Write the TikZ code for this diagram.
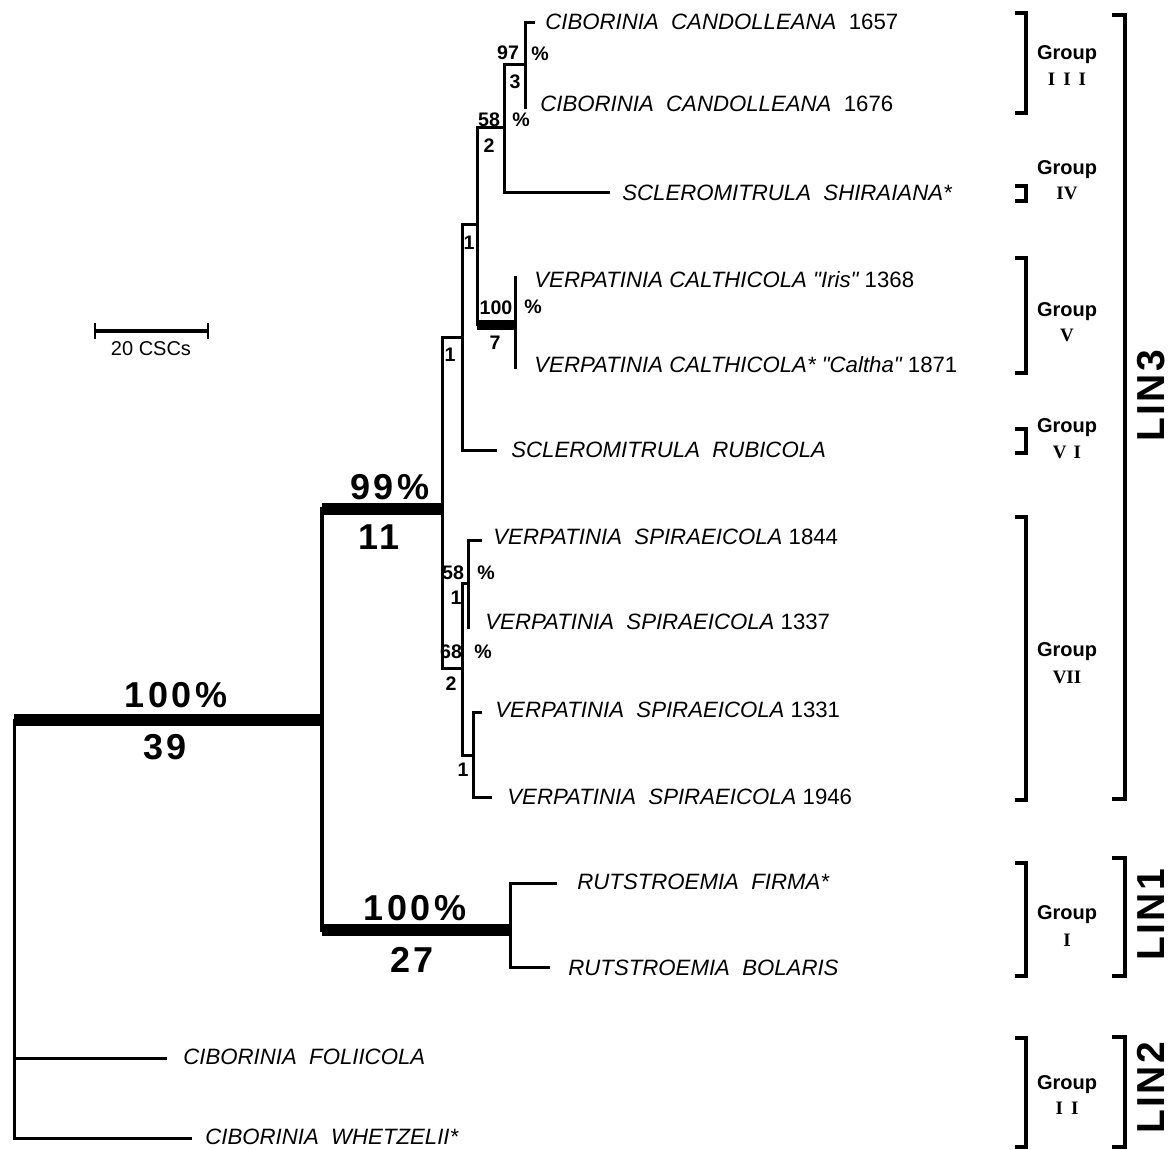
\documentclass[tikz,border=0pt]{standalone}
\usepackage{fontspec}
\newfontfamily\hel{Liberation Sans}
\newfontfamily\tms{Liberation Serif}
\newcommand\taxfnt{\hel\fontsize{11.1}{13}\selectfont}
\newcommand\smlfnt{\hel\bfseries\fontsize{9.8}{11}\selectfont}
\newcommand\bigfnt{\hel\bfseries\fontsize{18}{20}\selectfont\addfontfeature{LetterSpace=10}}
\newcommand\grpfnt{\hel\bfseries\fontsize{10}{12}\selectfont}
\newcommand\romfnt{\tms\bfseries\fontsize{9.5}{11}\selectfont}
\newcommand\linfnt{\hel\bfseries\fontsize{19.5}{21}\selectfont\addfontfeature{LetterSpace=6}}
\begin{document}
\begin{tikzpicture}[x=0.5pt,y=-0.5pt,line cap=rect,
  br/.style={line width=1.5pt},
  brA/.style={line width=1.9pt},
  thk/.style={line width=6.2pt,line cap=butt},
  thkV/.style={line width=5pt,line cap=butt},
  grpbr/.style={line width=2pt,line cap=butt},
  linbr/.style={line width=2.2pt,line cap=butt},
  tax/.style={anchor=west,inner sep=0pt,font=\taxfnt},
  sml/.style={inner sep=0pt,font=\smlfnt},
  big/.style={inner sep=0pt,font=\bigfnt},
  grp/.style={inner sep=0pt,font=\grpfnt},
  rom/.style={inner sep=0pt,font=\romfnt},
  lin/.style={inner sep=0pt,font=\linfnt,rotate=90}]
\useasboundingbox (0,0) rectangle (1170,1149);

% ---------- coordinates ----------
\coordinate (root) at (14,720);
\coordinate (nA)  at (322,720);
\coordinate (nL3) at (442,509);
\coordinate (nL1) at (510,930);
\coordinate (nD)  at (462,338);
\coordinate (nE)  at (477,225);
\coordinate (nF)  at (504,128);
\coordinate (nG)  at (525,65);
\coordinate (nH)  at (515,325);
\coordinate (nK)  at (462,668);
\coordinate (nM)  at (468,583);
\coordinate (nN)  at (473,755);
\coordinate (t1657) at (533,23);
\coordinate (t1676) at (525,108);
\coordinate (tShi)  at (608,193);
\coordinate (tIris) at (515,278);
\coordinate (tCal)  at (515,368);
\coordinate (tRub)  at (495,450);
\coordinate (t1844) at (480,540);
\coordinate (t1337) at (468,627);
\coordinate (t1331) at (480,712);
\coordinate (t1946) at (490,797);
\coordinate (tFir)  at (555,883);
\coordinate (tBol)  at (548,967);
\coordinate (tFol)  at (165,1058);
\coordinate (tWhe)  at (190,1138);

% ---------- tree ----------
\draw[thk] (root) -- (nA);
\draw[br] (root) |- (tWhe);
\draw[br] (root |- tFol) -- (tFol);
\draw[brA] (nA |- nL3) -- (nA |- nL1);
\draw[thk] (nA |- nL3) -- (nL3);
\draw[thk] (nA |- nL1) -- (nL1);
\draw[br] (tFir) -- (nL1 |- tFir) -- (nL1 |- tBol) -- (tBol);

\draw[br] (t1657) -- (nG |- t1657) -- (t1676);
\draw[br] (nG) -- (nF |- nG) -- (nF |- tShi) -- (tShi);
\draw[br] (tIris) -- (tCal);
\draw[br] (nF) -- (nE |- nF) -- (nE |- nH);
\draw[thkV] (nE |- nH) -- (nH);
\draw[br] (nE) -- (nD |- nE) -- (nD |- tRub) -- (tRub);
\draw[br] (nD) -- (nL3 |- nD) -- (nL3 |- nK) -- (nK);
\draw[br] (t1844) -- (nM |- t1844) -- (t1337);
\draw[br] (t1331) -- (nN |- t1331) -- (nN |- t1946) -- (t1946);
\draw[br] (nM) -- (nK |- nM) -- (nK |- nN) -- (nN);

% ---------- branch labels ----------
\node[big] (b100a) at (176,695) {100\%};
\node[big] (b39)   at (165,747) {39};
\node[big] (b99)   at (390,487) {99\%};
\node[big] (b11)   at (379,537) {11};
\node[big] (b100b) at (415,908) {100\%};
\node[big] (b27)   at (412,960) {27};

\node[sml] (s97) at (508,53) {97};
\node[sml] (s3)  at (515,82) {3};
\node[sml] (p97) at (540,54) {\%};
\node[sml] (s58a) at (489,120) {58};
\node[sml] (s2a)  at (489,146) {2};
\node[sml] (p58a) at (521,120) {\%};
\node[sml] (s1a) at (469,243) {1};
\node[sml] (s1b) at (450,355) {1};
\node[sml] (s100) at (496,308) {100};
\node[sml] (p100) at (533,307) {\%};
\node[sml] (s7)   at (495,343) {7};
\node[sml] (s58b) at (453,573) {58};
\node[sml] (p58b) at (486,573) {\%};
\node[sml] (s1c)  at (456,598) {1};
\node[sml] (s68)  at (451,652) {68};
\node[sml] (p68)  at (483,652) {\%};
\node[sml] (s2b)  at (451,684) {2};
\node[sml] (s1d)  at (463,770) {1};

% ---------- taxa ----------
\node[tax] (l1657) at (545,22)  {\itshape CIBORINIA\ \ CANDOLLEANA\upshape\ \ 1657};
\node[tax] (l1676) at (540,104) {\itshape CIBORINIA\ \ CANDOLLEANA\upshape\ \ 1676};
\node[tax] (lShi)  at (622,193) {\itshape SCLEROMITRULA\ \ SHIRAIANA*};
\node[tax] (lIris) at (534,280) {\itshape VERPATINIA CALTHICOLA "Iris"\upshape\ 1368};
\node[tax] (lCal)  at (534,365) {\itshape VERPATINIA CALTHICOLA* "Caltha"\upshape\ 1871};
\node[tax] (lRub)  at (511,450) {\itshape SCLEROMITRULA\ \ RUBICOLA};
\node[tax] (l1844) at (493,537) {\itshape VERPATINIA\ \ SPIRAEICOLA\upshape\ 1844};
\node[tax] (l1337) at (485,622) {\itshape VERPATINIA\ \ SPIRAEICOLA\upshape\ 1337};
\node[tax] (l1331) at (495,710) {\itshape VERPATINIA\ \ SPIRAEICOLA\upshape\ 1331};
\node[tax] (l1946) at (507,797) {\itshape VERPATINIA\ \ SPIRAEICOLA\upshape\ 1946};
\node[tax] (lFir)  at (577,882) {\itshape RUTSTROEMIA\ \ FIRMA*};
\node[tax] (lBol)  at (568,968) {\itshape RUTSTROEMIA\ \ BOLARIS};
\node[tax] (lFol)  at (183,1057) {\itshape CIBORINIA\ \ FOLIICOLA};
\node[tax] (lWhe)  at (205,1137) {\itshape CIBORINIA\ \ WHETZELII*};

% ---------- scale bar ----------
\coordinate (sbL) at (95,331);
\coordinate (sbR) at (208,331);
\draw[line width=1.8pt,line cap=butt] (sbL) -- (sbR);
\draw[line width=1pt,line cap=butt] ([yshift=4pt]sbL) -- ([yshift=-4pt]sbL);
\draw[line width=1pt,line cap=butt] ([yshift=4pt]sbR) -- ([yshift=-4pt]sbR);
\node[inner sep=0pt,font=\hel\fontsize{10}{12}\selectfont] (sbT) at (151,349) {20 CSCs};

% ---------- group brackets ----------
\draw[grpbr] (1015,13) -- (1026,13) -- (1026,113) -- (1015,113);
\draw[grpbr] (1015,186) -- (1026,186) -- (1026,201) -- (1015,201);
\draw[grpbr] (1015,258) -- (1026,258) -- (1026,373) -- (1015,373);
\draw[grpbr] (1015,429) -- (1026,429) -- (1026,453) -- (1015,453);
\draw[grpbr] (1015,517) -- (1026,517) -- (1026,800) -- (1015,800);
\draw[grpbr] (1015,863) -- (1026,863) -- (1026,976) -- (1015,976);
\draw[grpbr] (1015,1038) -- (1026,1038) -- (1026,1147) -- (1015,1147);

\node[grp] (g3)  at (1067,55)  {Group};   \node[rom] (r3) at (1067,79) {I\hspace{4pt}I\hspace{4pt}I};
\node[grp] (g4)  at (1067,170) {Group};   \node[rom] (r4) at (1067,193) {IV};
\node[grp] (g5)  at (1067,312) {Group};   \node[rom] (r5) at (1067,335) {V};
\node[grp] (g6)  at (1067,428) {Group};   \node[rom] (r6) at (1067,452) {V\hspace{3.5pt}I};
\node[grp] (g7)  at (1067,652) {Group};   \node[rom] (r7) at (1067,677) {VII};
\node[grp] (g1)  at (1067,915) {Group};   \node[rom] (r1) at (1067,940) {I};
\node[grp] (g2)  at (1067,1085) {Group};  \node[rom] (r2) at (1067,1108) {I\hspace{4pt}I};

% ---------- lineage brackets ----------
\draw[linbr] (1112,15) -- (1125,15) -- (1125,799) -- (1112,799);
\draw[linbr] (1112,858) -- (1125,858) -- (1125,976) -- (1112,976);
\draw[linbr] (1112,1037) -- (1125,1037) -- (1125,1147) -- (1112,1147);
\node[lin] (L3) at (1151,396) {LIN3};
\node[lin] (L1) at (1151,915) {LIN1};
\node[lin] (L2) at (1151,1088) {LIN2};
\end{tikzpicture}
\end{document}
